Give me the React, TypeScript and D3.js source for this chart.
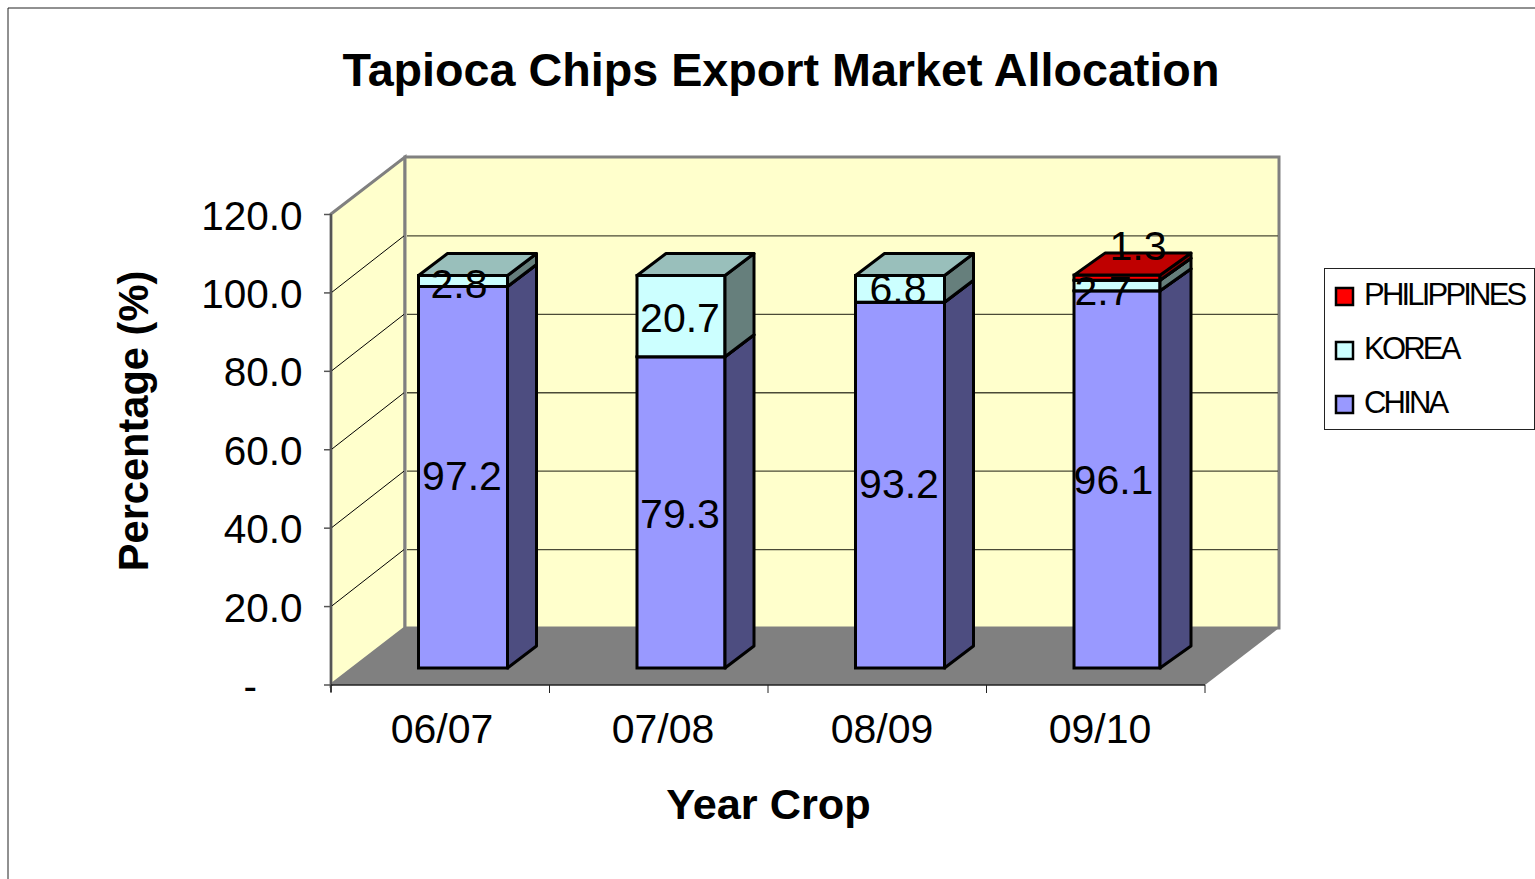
import React from "react";
import * as d3 from "d3";

const categories = ["06/07", "07/08", "08/09", "09/10"];
const seriesNames = ["CHINA", "KOREA", "PHILIPPINES"];
const china = [97.2, 79.3, 93.2, 96.1];
const korea = [2.8, 20.7, 6.8, 2.7];
const philippines = [0, 0, 0, 1.3];
const yTicks = [0, 20, 40, 60, 80, 100, 120];
const colors = ["#9999ff", "#ccffff", "#ff0000"];
const topColors = ["#4d4d80", "#99bfbb", "#bf0000"];
const sideColors = ["#4d4d80", "#667f7c", "#800000"];
const barWidths = [89, 88, 89, 86];
const barDepths = [29, 29, 29, 31];
const catLabelX = [442, 663, 882, 1100];

const F = "Liberation Sans, Arial, sans-serif";
const W = 1535, H = 879;
const dy = -57;

export default function App() {
  const y = d3.scaleLinear().domain([0, 120]).range([685, 214.5]);
  const barY = d3.scaleLinear().domain([0, 100]).range([668, 275.5]);
  const x = d3.scaleBand<string>().domain(categories).range([331, 1205]);
  const series = [china, korea, philippines];
  return (
    <svg width={W} height={H} style={{ position: "absolute", left: 0, top: 0 }}>
      <rect x={0} y={0} width={W} height={H} fill="#fff" />
      <path d={`M${W} 8H8V${H}`} fill="none" stroke="#222" strokeWidth={1} />
      <text x={781} y={86} textAnchor="middle" fontFamily={F} fontWeight="bold" fontSize={46.7}>Tapioca Chips Export Market Allocation</text>

      {/* walls */}
      <polygon points="331,214 405,157 405,628 331,685" fill="#ffffcc" stroke="#808080" strokeWidth={3} />
      <rect x={405} y={157} width={874} height={471} fill="#ffffcc" stroke="#808080" strokeWidth={3} />
      <polygon points="331,685 405,628 1279,628 1205,685" fill="#808080" />
      {yTicks.map(t => (
        <g key={t}>
          {t > 0 && t < 120 && <path d={`M331 ${y(t)}L404 ${y(t) + dy}`} fill="none" stroke="#000" strokeWidth={1} />}
          {t > 0 && t < 120 && <path d={`M407 ${y(t) + dy}H1278`} fill="none" stroke="#4a4a36" strokeWidth={1.3} />}
          <line x1={324} x2={331} y1={y(t)} y2={y(t)} stroke="#555" strokeWidth={1.5} />
          <text x={t === 0 ? 257 : 302.5} y={y(t) + 15} textAnchor="end" fontFamily={F} fontSize={40.5}>{t === 0 ? "-" : t.toFixed(1)}</text>
        </g>
      ))}
      <path d="M331 214V692" fill="none" stroke="#555" strokeWidth={2} />
      <path d="M331 685H1205" fill="none" stroke="#222" strokeWidth={1.5} />
      {categories.map(c => (
        <line key={c} x1={x(c)!} x2={x(c)!} y1={685} y2={693} stroke="#222" strokeWidth={1} />
      ))}
      <line x1={1205} x2={1205} y1={685} y2={693} stroke="#222" />
      {categories.map((c, i) => (
        <text key={c} x={catLabelX[i]} y={742.5} textAnchor="middle" fontFamily={F} fontSize={41}>{c}</text>
      ))}

      {/* bars */}
      {categories.map((c, i) => {
        const bx = x(c)! + 87.5, bw = barWidths[i];
        const ddx = barDepths[i], ddy = -22;
        let acc = 0;
        return (
          <g key={c}>
            {series.map((s, k) => {
              const v = s[i];
              if (!v) return null;
              const y0 = barY(acc), y1 = barY(acc + v);
              acc += v;
              return (
                <g key={k}>
                  <rect x={bx} y={y1} width={bw} height={y0 - y1} fill={colors[k]} stroke="#000" strokeWidth={3} />
                  <polygon points={`${bx + bw},${y0} ${bx + bw + ddx},${y0 + ddy} ${bx + bw + ddx},${y1 + ddy} ${bx + bw},${y1}`} fill={sideColors[k]} stroke="#000" strokeWidth={3} strokeLinejoin="round" />
                  <polygon points={`${bx},${y1} ${bx + ddx},${y1 + ddy} ${bx + bw + ddx},${y1 + ddy} ${bx + bw},${y1}`} fill={topColors[k]} stroke="#000" strokeWidth={3} strokeLinejoin="round" />
                </g>
              );
            })}
          </g>
        );
      })}
      {[["97.2",462,490],["79.3",680,527.5],["93.2",899,498],["96.1",1113.5,494],["2.8",459,298],["20.7",680,332],["6.8",898,303],["2.7",1103,305],["1.3",1138,260]].map(([t, px, py]) => (
        <text key={String(t)} x={Number(px)} y={Number(py)} textAnchor="middle" fontFamily={F} fontSize={41}>{t}</text>
      ))}

      <text transform="translate(148,421) rotate(-90)" textAnchor="middle" fontFamily={F} fontWeight="bold" fontSize={41.6}>Percentage (%)</text>
      <text x={768.5} y={819} textAnchor="middle" fontFamily={F} fontWeight="bold" fontSize={43.3}>Year Crop</text>

      {/* legend */}
      <rect x={1324.5} y={268.5} width={210} height={161} fill="#fff" stroke="#222" />
      {[...seriesNames].reverse().map((n, i) => {
        const k = 2 - i;
        const cy = 296 + i * 54;
        return (
          <g key={n}>
            <rect x={1336} y={cy - 8} width={17} height={17} fill={colors[k]} stroke="#000" strokeWidth={2.5} />
            <text x={1364} y={cy + 9} fontFamily={F} fontSize={31} letterSpacing={-2.8}>{n}</text>
          </g>
        );
      })}
    </svg>
  );
}
